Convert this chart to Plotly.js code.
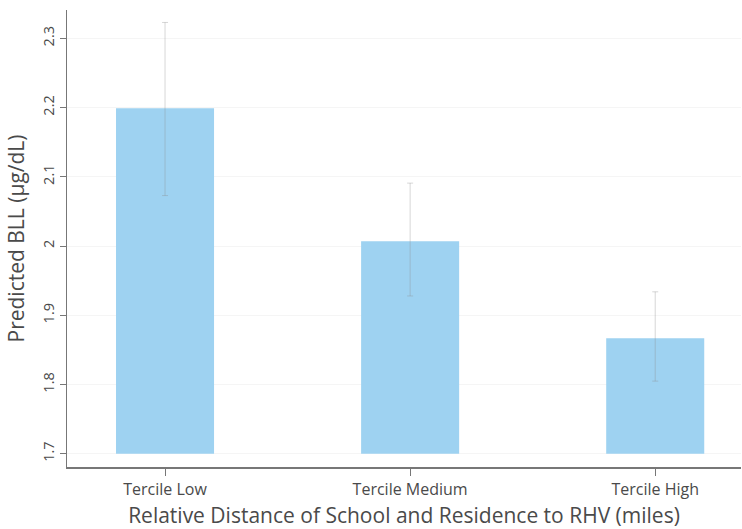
<!DOCTYPE html>
<html>
<head>
<meta charset="utf-8">
<script src="https://cdn.plot.ly/plotly-3.0.1.min.js"></script>
<style>html,body{margin:0;padding:0;background:#fff}#chart{width:742px;height:529px}</style>
</head>
<body>
<div id="chart"></div>
<script>
const categories = ["Tercile Low", "Tercile Medium", "Tercile High"];
const predicted = [2.199, 2.007, 1.867];
const upperCI = [2.323, 2.091, 1.934];
const lowerCI = [2.073, 1.928, 1.805];
const baseValue = 1.7;
const yTicks = [1.7, 1.8, 1.9, 2.0, 2.1, 2.2, 2.3];
const yTickLabels = ["1.7", "1.8", "1.9", "2", "2.1", "2.2", "2.3"];

const barTrace = {
  type: "bar",
  x: categories,
  y: predicted.map(v => v - baseValue),
  base: predicted.map(() => baseValue),
  width: 0.4,
  marker: {color: "rgb(158,210,241)"},
  hoverinfo: "skip"
};
const errTrace = {
  type: "scatter",
  mode: "markers",
  x: categories,
  y: predicted,
  marker: {size: 1, color: "rgba(0,0,0,0)"},
  error_y: {
    type: "data",
    symmetric: false,
    array: upperCI.map((u, i) => u - predicted[i]),
    arrayminus: lowerCI.map((l, i) => predicted[i] - l),
    color: "rgba(140,140,140,0.35)",
    thickness: 1,
    width: 3
  },
  hoverinfo: "skip"
};

const layout = {
  width: 742, height: 529,
  margin: {l: 67, r: 1, t: 10, b: 62},
  paper_bgcolor: "#fff", plot_bgcolor: "#fff",
  showlegend: false,
  font: {family: "'Open Sans', sans-serif", color: "#4a4a4a"},
  xaxis: {
    type: "category",
    range: [-0.4, 2.35],
    showgrid: false,
    showline: true, linecolor: "#777", linewidth: 1.5,
    ticks: "outside", ticklen: 7, tickcolor: "#777",
    tickfont: {size: 16, color: "#4a4a4a"},
    title: {text: "Relative Distance of School and Residence to RHV (miles)", font: {size: 21, color: "#4a4a4a"}, standoff: 9},
    zeroline: false
  },
  yaxis: {
    range: [1.681, 2.341],
    tickvals: yTicks, ticktext: yTickLabels,
    tickangle: -90,
    showgrid: true, gridcolor: "rgba(0,0,0,0.04)",
    showline: true, linecolor: "#777", linewidth: 1.5,
    ticks: "outside", ticklen: 6, tickcolor: "#777",
    tickfont: {size: 14.5, color: "#4a4a4a"},
    title: {text: "Predicted BLL (µg/dL)", font: {size: 21, color: "#4a4a4a"}, standoff: 8},
    zeroline: false
  }
};

Plotly.newPlot("chart", [barTrace, errTrace], layout, {displayModeBar: false, staticPlot: true});
</script>
</body>
</html>
